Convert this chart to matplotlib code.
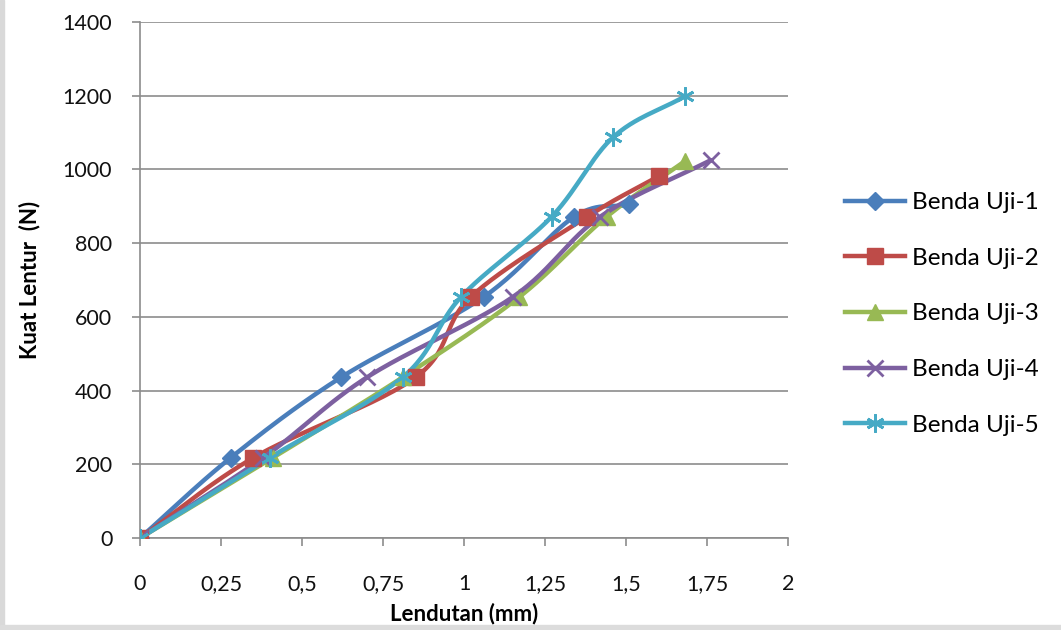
import numpy as np
import matplotlib
matplotlib.use('Agg')
import matplotlib.pyplot as plt
from matplotlib.ticker import FixedLocator
from matplotlib.patches import Rectangle

plt.rcParams['font.family'] = ['Lato', 'DejaVu Sans']

# lendutan (mm) dan kuat lentur (N) tiap benda uji
x1 = [0, 0.28, 0.62, 1.06, 1.34, 1.51]
y1 = [0, 218, 436, 654, 872, 905]
x2 = [0, 0.35, 0.85, 1.02, 1.38, 1.60]
y2 = [0, 218, 436, 654, 872, 982]
x3 = [0, 0.41, 0.81, 1.17, 1.44, 1.68]
y3 = [0, 218, 436, 654, 872, 1022]
x4 = [0, 0.38, 0.70, 1.15, 1.42, 1.76]
y4 = [0, 218, 436, 654, 872, 1025]
x5 = [0, 0.40, 0.81, 0.99, 1.27, 1.46, 1.68]
y5 = [0, 218, 436, 654, 872, 1088, 1198]

labels = ['Benda Uji-1', 'Benda Uji-2', 'Benda Uji-3', 'Benda Uji-4', 'Benda Uji-5']
colors = ['#4A7EBB', '#BE4B48', '#98B954', '#7D60A0', '#46AAC5']
markers = ['D', 's', '^', 'x', (6, 2, 0)]
msizes = [9, 12, 12, 12, 13]

xticks = [0, 0.25, 0.5, 0.75, 1, 1.25, 1.5, 1.75, 2]
xticklabels = ['0', '0,25', '0,5', '0,75', '1', '1,25', '1,5', '1,75', '2']
yticks = [0, 200, 400, 600, 800, 1000, 1200, 1400]


def smooth(xs, ys, n=30, sx=2.0, sy=1400.0):
    # garis halus ala excel (catmull-rom) lewat titik data
    px = np.array(xs) / sx
    py = np.array(ys) / sy
    px = np.concatenate([[2 * px[0] - px[1]], px, [2 * px[-1] - px[-2]]])
    py = np.concatenate([[2 * py[0] - py[1]], py, [2 * py[-1] - py[-2]]])
    ox, oy = [], []
    for i in range(1, len(px) - 2):
        t = np.linspace(0, 1, n)
        for arr, out in ((px, ox), (py, oy)):
            p0, p1, p2, p3 = arr[i - 1], arr[i], arr[i + 1], arr[i + 2]
            out.extend(0.5 * (2 * p1 + (-p0 + p2) * t
                              + (2 * p0 - 5 * p1 + 4 * p2 - p3) * t ** 2
                              + (-p0 + 3 * p1 - 3 * p2 + p3) * t ** 3))
    return np.array(ox) * sx, np.array(oy) * sy


fig = plt.figure(figsize=(10.61, 6.30), dpi=100)
# pinggiran abu-abu tipis di kiri dan bawah
fig.patches.append(Rectangle((0, 0), 0.004, 1, transform=fig.transFigure,
                             color='#d9d9d9', zorder=0))
fig.patches.append(Rectangle((0, 0), 1, 0.008, transform=fig.transFigure,
                             color='#dcdcdc', zorder=0))
ax = fig.add_axes([0.132, 0.146, 0.611, 0.819])

series = [(x1, y1), (x2, y2), (x3, y3), (x4, y4), (x5, y5)]
for (xs, ys), lab, c, m, ms in zip(series, labels, colors, markers, msizes):
    sxs, sys_ = smooth(xs, ys)
    ax.plot(sxs, sys_, color=c, lw=3.2, solid_capstyle='round', zorder=3)
    mew = 2 if m in ('x', (6, 2, 0)) else 1
    ax.plot(xs, ys, ls='none', marker=m, ms=ms, color=c, mec=c, mew=mew, zorder=4)
    ax.plot([], [], color=c, lw=3.2, marker=m, ms=ms, mew=mew, label=lab)

ax.set_xlim(0, 2)
ax.set_ylim(0, 1400)
ax.xaxis.set_major_locator(FixedLocator(xticks))
ax.set_xticklabels(xticklabels)
ax.yaxis.set_major_locator(FixedLocator(yticks))
ax.grid(axis='y', color='#8c8c8c', lw=1.2)
ax.set_axisbelow(True)
for s in ['top', 'right']:
    ax.spines[s].set_visible(False)
for s in ['left', 'bottom']:
    ax.spines[s].set_color('#8c8c8c')
    ax.spines[s].set_linewidth(1.2)
ax.tick_params(axis='x', direction='out', length=6, width=1.2, color='#8c8c8c',
               pad=20, labelsize=15.5, labelcolor='#111111')
ax.tick_params(axis='y', direction='out', length=6, width=1.2, color='#8c8c8c',
               pad=14, labelsize=15.5, labelcolor='#111111')
ax.set_xlabel('Lendutan (mm)', fontsize=16, fontweight='bold', labelpad=6)
ax.set_ylabel('Kuat Lentur  (N)', fontsize=16, fontweight='bold', labelpad=16)

leg = fig.legend(loc='upper left', bbox_to_anchor=(0.787, 0.71), frameon=False,
                 fontsize=17.5, handlelength=2.5, labelspacing=1.42, handletextpad=0.25,
                 borderaxespad=0)

fig.savefig('out.png', dpi=100)
